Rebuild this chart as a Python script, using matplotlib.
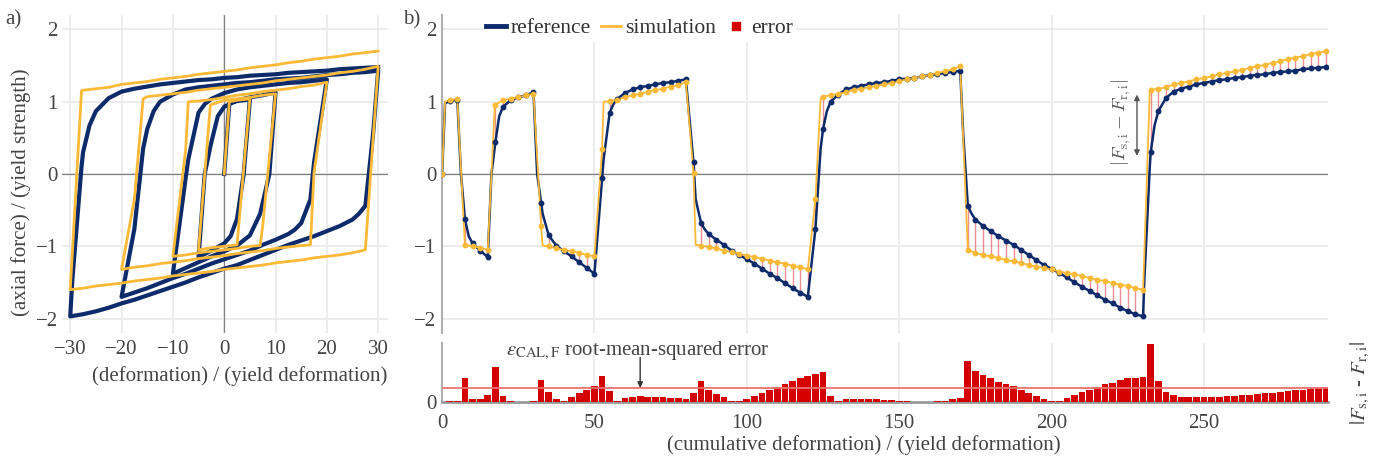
import numpy as np
import matplotlib
matplotlib.use("Agg")
import matplotlib.pyplot as plt
from matplotlib.lines import Line2D

plt.rcParams['font.family'] = ['Liberation Serif', 'DejaVu Serif']
plt.rcParams['mathtext.fontset'] = 'cm'

NAVY = '#0d2b6b'
ORANGE = '#fbb938'
RED = '#d40000'
GREY = '#444444'

# loading protocol (reversal points)
peak_cum = [0, 5, 15, 30, 50, 80, 120, 170, 230, 290]
peak_def = [0, 5, -5, 10, -10, 20, -20, 30, -30, 30]

# samples every 2.5 of cumulative deformation
step = 2.5
ref_force = [
    0.00, 1.01, 1.03,
    -0.62, -0.96, -1.06, -1.15,
    0.44, 0.93, 1.02, 1.06, 1.09, 1.13,
    -0.40, -0.85, -0.99, -1.07, -1.14, -1.22, -1.30, -1.38,
    -0.05, 0.85, 1.04, 1.12, 1.17, 1.20, 1.22, 1.24, 1.26, 1.27, 1.29, 1.31,
    0.16, -0.68, -0.83, -0.91, -0.98, -1.06, -1.12, -1.18, -1.24, -1.31, -1.38,
    -1.44, -1.51, -1.58, -1.64, -1.70,
    -0.76, 0.62, 1.00, 1.10, 1.17, 1.20, 1.22, 1.24, 1.26, 1.27, 1.29, 1.31,
    1.32, 1.33, 1.35, 1.37, 1.38, 1.40, 1.41, 1.43,
    -0.44, -0.63, -0.72, -0.79, -0.86, -0.92, -0.98, -1.05, -1.12, -1.19, -1.26,
    -1.31, -1.37, -1.43, -1.50, -1.56, -1.62, -1.68, -1.74, -1.79, -1.85, -1.90,
    -1.94, -1.97,
    0.30, 0.87, 1.05, 1.14, 1.18, 1.21, 1.24, 1.26, 1.28, 1.30, 1.31, 1.33,
    1.34, 1.36, 1.37, 1.38, 1.40, 1.41, 1.42, 1.43, 1.45, 1.46, 1.47, 1.48,
]
sim_force = [
    0.00, 1.02, 1.04,
    -0.98, -1.00, -1.02, -1.05,
    0.96, 1.02, 1.04, 1.06, 1.09, 1.11,
    -0.72, -1.00, -1.03, -1.05, -1.07, -1.09, -1.12, -1.14,
    0.34, 1.01, 1.03, 1.06, 1.09, 1.11, 1.14, 1.16, 1.18, 1.21, 1.23, 1.27,
    0.02, -0.99, -1.01, -1.03, -1.06, -1.08, -1.10, -1.13, -1.15, -1.17, -1.20,
    -1.22, -1.24, -1.27, -1.29, -1.32,
    -0.35, 1.07, 1.09, 1.11, 1.13, 1.16, 1.18, 1.20, 1.22, 1.24, 1.26, 1.29,
    1.31, 1.33, 1.35, 1.37, 1.40, 1.42, 1.45, 1.49,
    -1.05, -1.09, -1.12, -1.14, -1.16, -1.19, -1.21, -1.23, -1.26, -1.28, -1.30,
    -1.32, -1.35, -1.37, -1.39, -1.41, -1.44, -1.46, -1.48, -1.51, -1.53, -1.55,
    -1.58, -1.60,
    1.16, 1.18, 1.20, 1.24, 1.26, 1.28, 1.31, 1.33, 1.35, 1.38, 1.40, 1.42,
    1.44, 1.47, 1.49, 1.51, 1.54, 1.56, 1.59, 1.61, 1.63, 1.66, 1.68, 1.70,
]

# extra points of the curves between samples (yield knees)
knee_cum = [1.0, 6.2, 8.75, 16.2, 17.3, 18.75, 31.2, 33.0, 53.0, 56.25,
            83.2, 86.25, 124.2, 126.25, 171.0, 173.75, 230.4, 232.2, 233.75]
knee_ref = [0.98, 0.00, -0.86, 0.00, 0.38, 0.80, 0.00, -0.55, 0.20, 0.97,
            -0.35, -0.77, 0.35, 0.87, 0.55, -0.55, -1.48, 0.10, 0.67]
knee_sim = [1.00, 0.07, -0.99, -0.01, 0.95, 0.99, 0.23, -0.99, 1.00, 1.02,
            -0.98, -1.00, 1.04, 1.08, 0.47, -1.07, -1.11, 1.15, 1.17]

ref = np.array(ref_force)
sim = np.array(sim_force)
cum = np.arange(len(ref)) * step
err = np.abs(sim - ref)
rmse = np.sqrt(np.mean(err ** 2))

line_cum = np.concatenate([cum, knee_cum])
order = np.argsort(line_cum, kind='stable')
line_cum = line_cum[order]
line_ref = np.concatenate([ref, knee_ref])[order]
line_sim = np.concatenate([sim, knee_sim])[order]
line_def = np.interp(line_cum, peak_cum, peak_def)

fig = plt.figure(figsize=(13.84, 4.62), dpi=100)
ax1 = fig.add_axes([0.0448, 0.2792, 0.2355, 0.6883])
ax2 = fig.add_axes([0.3194, 0.2792, 0.6402, 0.6883])
ax3 = fig.add_axes([0.3194, 0.1299, 0.6402, 0.1277])

for ax in (ax1, ax2, ax3):
    for s in ax.spines.values():
        s.set_visible(False)
    ax.set_axisbelow(True)
    ax.tick_params(length=0, labelsize=15, colors=GREY)

# a) hysteresis
ax1.grid(color='#ebebeb', lw=1.3)
ax1.axhline(0, color='#808080', lw=0.9, zorder=1)
ax1.axvline(0, color='#808080', lw=0.9, zorder=1)
ax1.plot(line_def, line_ref, color=NAVY, lw=3, zorder=2)
ax1.plot(line_def, line_sim, color=ORANGE, lw=2, zorder=3)
ax1.set_xlim(-31.6, 31.9)
ax1.set_ylim(-2.2, 2.2)
ax1.set_xticks([-30, -20, -10, 0, 10, 20, 30])
ax1.set_yticks([-2, -1, 0, 1, 2])
ax1.tick_params(axis='x', pad=5)
ax1.tick_params(axis='y', pad=3)
ax1.set_xlabel('(deformation) / (yield deformation)', fontsize=15, color=GREY)
ax1.xaxis.set_label_coords(0.545, -0.105)
ax1.set_ylabel('(axial force) / (yield strength)', fontsize=15, color=GREY)
ax1.yaxis.set_label_coords(-0.095, 0.443)

# b) time history
xmax = 290.7
ax2.grid(color='#ebebeb', lw=1.3)
ax2.axhline(0, color='#808080', lw=0.9, zorder=1)
ax2.spines['left'].set_visible(True)
ax2.spines['left'].set_color('#b0b0b0')
ax2.spines['left'].set_linewidth(1.5)
ax2.vlines(cum, ref, sim, color='#e0303a', alpha=0.55, lw=1, zorder=2)
ax2.plot(line_cum, line_ref, color=NAVY, lw=1.8, zorder=3)
ax2.plot(line_cum, line_sim, color=ORANGE, lw=1.3, zorder=4)
ax2.plot(cum, ref, 'o', color=NAVY, ms=3.2, zorder=5)
ax2.plot(cum, sim, 'o', color=ORANGE, ms=3.2, zorder=6)
ax2.set_xlim(0, xmax)
ax2.set_ylim(-2.2, 2.2)
ax2.set_xticks([0, 50, 100, 150, 200, 250])
ax2.set_xticklabels([])
ax2.set_yticks([-2, -1, 0, 1, 2])
ax2.tick_params(axis='y', pad=4)

handles = [Line2D([], [], color=NAVY, lw=3.5),
           Line2D([], [], color=ORANGE, lw=2),
           Line2D([], [], color=RED, marker='s', ls='none', ms=6)]
leg = ax2.legend(handles, ['reference', 'simulation', 'error'],
                 loc='upper left', bbox_to_anchor=(0.046, 1.0), ncol=3,
                 frameon=True, fancybox=False, framealpha=1, fontsize=15.5,
                 handlelength=0.95, handletextpad=0.2, columnspacing=0.45,
                 borderaxespad=0, borderpad=0.15, labelcolor='#333333')
leg.get_frame().set_edgecolor('none')

ax2.annotate('', xy=(228, 1.10), xytext=(228, 0.25),
             arrowprops=dict(arrowstyle='<|-|>', color='#555555', lw=1,
                             mutation_scale=8, shrinkA=0, shrinkB=0))
ax2.text(222.9, 0.72, r'$|F_{\mathrm{s,i}} - F_{\mathrm{r,i}}|$', rotation=90,
         ha='center', va='center', fontsize=13.5, color='#555555')

# error bars
ax3.grid(axis='x', color='#ebebeb', lw=1.3)
ax3.spines['left'].set_visible(True)
ax3.spines['left'].set_color('#b0b0b0')
ax3.spines['left'].set_linewidth(1.5)
ax3.spines['bottom'].set_visible(True)
ax3.spines['bottom'].set_color('#999999')
ax3.spines['bottom'].set_linewidth(2)
ax3.bar(cum, err, width=2.2, color=RED, zorder=3)
ax3.axhline(rmse, color='#f07070', lw=1.3, zorder=4)
ax3.set_xlim(0, xmax)
ax3.set_ylim(0, 0.875)
ax3.set_xticks([0, 50, 100, 150, 200, 250])
ax3.set_yticks([0])
ax3.tick_params(axis='x', pad=9)
ax3.tick_params(axis='y', pad=4)
ax3.set_xlabel('(cumulative deformation) / (yield deformation)', fontsize=15,
               color=GREY)
ax3.xaxis.set_label_coords(0.476, -0.56)
ax3.text(64.3, 0.76, r'$\varepsilon_{\mathrm{CAL,F}}$ root-mean-squared error',
         ha='center', va='center', fontsize=15, color=GREY, math_fontfamily='stix')
ax3.annotate('', xy=(65, rmse), xytext=(65, 0.66),
             arrowprops=dict(arrowstyle='-|>', color='#333333', lw=1,
                             mutation_scale=8, shrinkA=0, shrinkB=0))

fig.text(1360 / 1384, 1 - 383 / 462, r'$|F_{\mathrm{s,i}}$ - $F_{\mathrm{r,i}}|$',
         rotation=90, ha='center', va='center', fontsize=15, color=GREY,
         math_fontfamily='stix')
fig.text(0.004, 0.957, 'a)', fontsize=15, color=GREY, va='center')
fig.text(0.2912, 0.957, 'b)', fontsize=15, color=GREY, va='center')

fig.savefig('out.png', dpi=100)
